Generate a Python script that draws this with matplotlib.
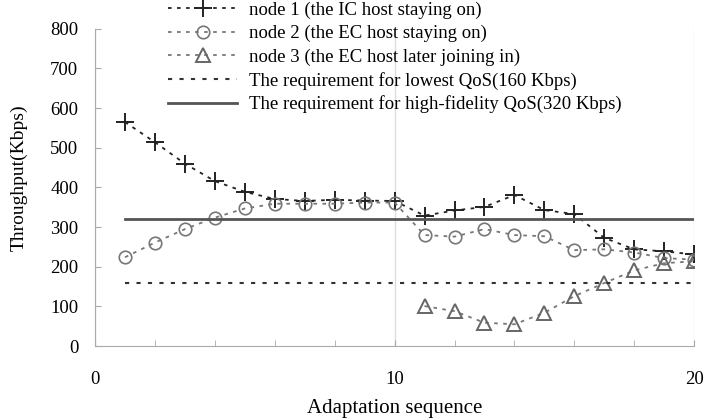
import matplotlib
matplotlib.use("Agg")
import matplotlib.pyplot as plt
from matplotlib.ticker import MultipleLocator

plt.rcParams['font.family'] = ['Liberation Serif', 'DejaVu Serif']

# data
seq = list(range(1, 21))
node1 = [565, 514, 460, 416, 389, 371, 366, 369, 367, 366,
         329, 342, 351, 381, 343, 333, 273, 244, 239, 231]
node2 = [224, 261, 295, 324, 347, 359, 359, 359, 362, 362,
         280, 276, 295, 280, 277, 242, 244, 236, 222, 218]
seq3 = list(range(11, 21))
node3 = [101, 88, 59, 55, 84, 126, 159, 191, 209, 214]
qos_low = 160
qos_high = 320

labels = ['node 1 (the IC host staying on)',
          'node 2 (the EC host staying on)',
          'node 3 (the EC host later joining in)',
          'The requirement for lowest QoS(160 Kbps)',
          'The requirement for high-fidelity QoS(320 Kbps)']

fig = plt.figure(figsize=(7.04, 4.18), dpi=100)
ax = fig.add_axes([0.135, 0.172, 0.851, 0.759])

dash = (0, (2, 3))
ax.plot(seq, node1, color='#222222', linestyle=dash, linewidth=1.3,
        marker='+', markersize=13, markeredgewidth=1.4, label=labels[0])
ax.plot(seq, node2, color='#777777', linestyle=dash, linewidth=1.3,
        marker='o', markersize=9, markerfacecolor='none', markeredgecolor='#777777',
        markeredgewidth=1.2, label=labels[1])
ax.plot(seq3, node3, color='#777777', linestyle=dash, linewidth=1.3,
        marker='^', markersize=10, markerfacecolor='none', markeredgecolor='#666666',
        markeredgewidth=1.4, label=labels[2])
ax.plot([seq[0], seq[-1]], [qos_low, qos_low], color='#333333', linestyle=(0, (2, 3.5)),
        linewidth=1.5, label=labels[3])
ax.plot([seq[0], seq[-1]], [qos_high, qos_high], color='#555555', linestyle='-',
        linewidth=2.0, label=labels[4])

ax.set_xlim(0, 20)
ax.set_ylim(0, 800)
ax.xaxis.set_major_locator(MultipleLocator(10))
ax.xaxis.set_minor_locator(MultipleLocator(2))
ax.yaxis.set_major_locator(MultipleLocator(100))
ax.grid(True, axis='x', which='major', color='#dddddd', linewidth=1)

for s in ['top', 'right']:
    ax.spines[s].set_visible(False)
for s in ['left', 'bottom']:
    ax.spines[s].set_color('#aaaaaa')
ax.tick_params(axis='both', which='both', color='#aaaaaa', direction='in', labelsize=13.5)
ax.tick_params(axis='x', which='both', length=4, pad=18)
ax.tick_params(axis='y', length=4, pad=12)

ax.set_xlabel('Adaptation sequence', fontsize=15, labelpad=8)
ax.set_ylabel('Throughput(Kbps)', fontsize=14)
ax.yaxis.set_label_coords(-0.112, 0.53)

ax.legend(loc='upper left', bbox_to_anchor=(0.228, 1.014), bbox_transform=fig.transFigure,
          frameon=False, fontsize=13.5, handlelength=3.7, handletextpad=0.6,
          labelspacing=0.32, borderaxespad=0)

fig.savefig('out.png', dpi=100)
